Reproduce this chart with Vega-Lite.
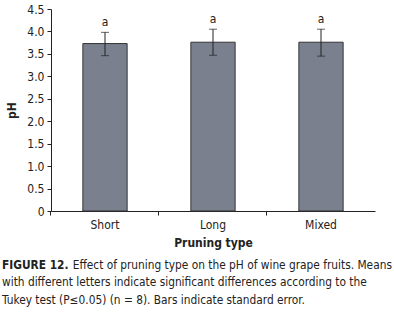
{
  "$schema": "https://vega.github.io/schema/vega-lite/v6.json",
  "autosize": "none",
  "width": 324,
  "height": 202,
  "padding": {"left": 51, "top": 9, "right": 19, "bottom": 101},
  "background": "white",
  "config": {
    "font": "DejaVu Sans Condensed",
    "view": {"stroke": null},
    "axis": {"labelFont": "DejaVu Sans Condensed", "titleFont": "DejaVu Sans Condensed", "labelColor": "#222", "titleColor": "#222", "domainColor": "#222", "tickColor": "#222", "grid": false},
    "axisY": {"titleFontSize": 12, "titleFontWeight": "bold", "titlePadding": 8, "labelFontSize": 12, "labelPadding": 3, "labelOverlap": false, "tickSize": 4}
  },
  "title": {
    "text": "FIGURE 12.",
    "subtitle": ["\u200b\u00a0\u00a0\u00a0\u00a0\u00a0\u00a0\u00a0\u00a0\u00a0\u00a0\u00a0\u00a0\u00a0\u00a0\u00a0\u00a0\u00a0\u00a0\u00a0\u00a0\u00a0Effect of pruning type on the pH of wine grape fruits. Means", "with different letters indicate significant differences according to the", "Tukey test (P\u22640.05) (n = 8). Bars indicate standard error."],
    "orient": "bottom",
    "anchor": "start",
    "frame": "group",
    "dx": -49,
    "offset": 12,
    "font": "DejaVu Sans Condensed",
    "fontSize": 11.8,
    "fontWeight": "bold",
    "color": "#222",
    "subtitleFont": "DejaVu Sans Condensed",
    "subtitleFontSize": 11.8,
    "subtitleFontWeight": "normal",
    "subtitleLineHeight": 17.5,
    "subtitleColor": "#222",
    "subtitlePadding": -12
  },
  "data": {
    "values": [
      {"type": "Short", "ph": 3.73, "lo": 3.46, "hi": 3.98, "letter": "a"},
      {"type": "Long", "ph": 3.76, "lo": 3.47, "hi": 4.05, "letter": "a"},
      {"type": "Mixed", "ph": 3.76, "lo": 3.45, "hi": 4.05, "letter": "a"}
    ]
  },
  "encoding": {
    "x": {
      "field": "type",
      "type": "nominal",
      "sort": ["Short", "Long", "Mixed"],
      "scale": {"paddingInner": 0.59, "paddingOuter": 0.295},
      "axis": {
        "title": "Pruning type",
        "titleFontSize": 12,
        "titleFontWeight": "bold",
        "titlePadding": 7,
        "labelAngle": 0,
        "labelFontSize": 12,
        "labelPadding": 4,
        "tickSize": 4,
        "bandPosition": -0.72
      }
    }
  },
  "layer": [
    {
      "mark": {"type": "bar", "fill": "#7b808e", "stroke": "#333", "strokeWidth": 1},
      "encoding": {
        "y": {
          "field": "ph",
          "type": "quantitative",
          "scale": {"domain": [0, 4.5], "nice": false},
          "axis": {"title": "pH", "values": [0, 0.5, 1, 1.5, 2, 2.5, 3, 3.5, 4, 4.5], "labelExpr": "datum.value == 0 ? '0' : format(datum.value, '.1f')"}
        }
      }
    },
    {
      "mark": {"type": "rule", "color": "#222", "strokeWidth": 1},
      "encoding": {
        "y": {"field": "lo", "type": "quantitative", "axis": {"title": "pH", "values": [0, 0.5, 1, 1.5, 2, 2.5, 3, 3.5, 4, 4.5], "labelExpr": "datum.value == 0 ? '0' : format(datum.value, '.1f')"}},
        "y2": {"field": "hi"}
      }
    },
    {
      "mark": {"type": "tick", "color": "#222", "size": 8, "thickness": 1},
      "encoding": {"y": {"field": "lo", "type": "quantitative", "axis": {"title": "pH", "values": [0, 0.5, 1, 1.5, 2, 2.5, 3, 3.5, 4, 4.5], "labelExpr": "datum.value == 0 ? '0' : format(datum.value, '.1f')"}}}
    },
    {
      "mark": {"type": "tick", "color": "#222", "size": 8, "thickness": 1},
      "encoding": {"y": {"field": "hi", "type": "quantitative", "axis": {"title": "pH", "values": [0, 0.5, 1, 1.5, 2, 2.5, 3, 3.5, 4, 4.5], "labelExpr": "datum.value == 0 ? '0' : format(datum.value, '.1f')"}}}
    },
    {
      "mark": {"type": "text", "fontSize": 12, "dy": -10, "color": "#222"},
      "encoding": {
        "y": {"field": "hi", "type": "quantitative", "axis": {"title": "pH", "values": [0, 0.5, 1, 1.5, 2, 2.5, 3, 3.5, 4, 4.5], "labelExpr": "datum.value == 0 ? '0' : format(datum.value, '.1f')"}},
        "text": {"field": "letter"}
      }
    }
  ]
}
